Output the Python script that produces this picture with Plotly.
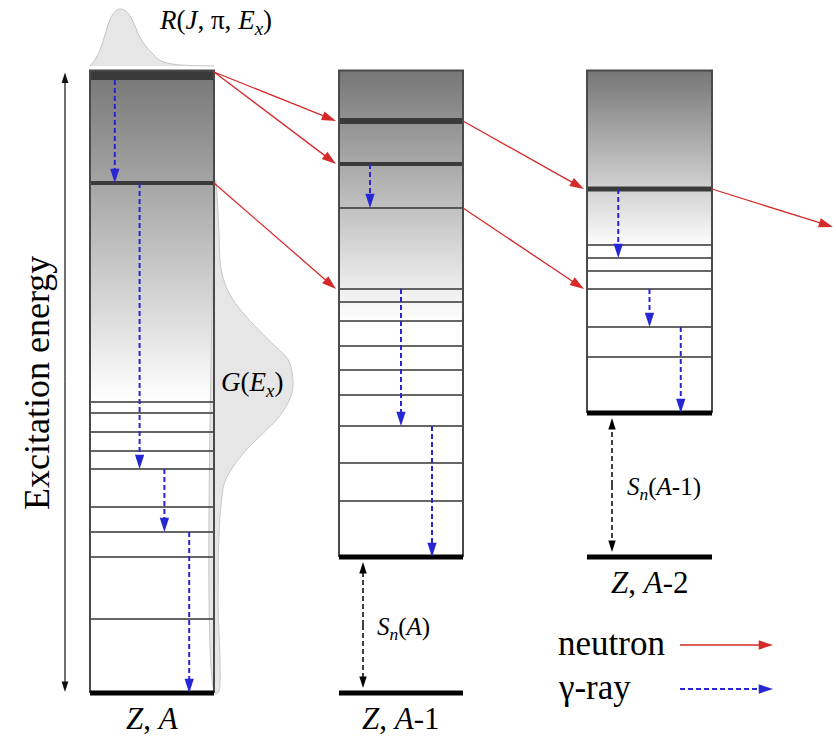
import plotly.graph_objects as go

# ---------------- level-scheme data (energies in arbitrary units) ----------------
SN_A = 2.72        # neutron separation energy of (Z, A)
SN_A1 = 2.88       # neutron separation energy of (Z, A-1)
E_TOP = 12.45      # upper edge of the level schemes

# discrete levels, absolute energies on the common scale
levels_A = [1.48, 2.72, 3.22, 3.72, 4.48, 4.84, 5.22, 5.60, 5.82]
levels_A1 = [3.84, 4.60, 5.34, 5.96, 6.46, 6.94, 7.44, 7.82, 8.08, 9.70]
levels_A2 = [6.72, 7.32, 8.08, 8.44, 8.70, 8.96]

# strongly fed states (drawn as thick lines)
entry_A = 12.36
thick_A = [10.20]
thick_A1 = [11.44, 10.58]
thick_A2 = [10.08]

# energy where the continuum shading fades to white
fade_levels = [5.86, 7.42, 8.90]

# gamma transitions: (nucleus index, position across box, E_from, E_to)
gammas = [
    (0, 0.20, 12.26, 10.20), (0, 0.40, 10.20, 4.48), (0, 0.60, 4.48, 3.22), (0, 0.80, 3.22, 0.00),
    (1, 0.25, 10.58, 9.70), (1, 0.50, 8.08, 5.34), (1, 0.75, 5.34, 2.72),
    (2, 0.25, 10.08, 8.70), (2, 0.50, 8.08, 7.32), (2, 0.75, 7.32, 5.60),
]

# neutron emissions: (from nucleus, E_from, E_to)
neutrons = [
    (0, 12.42, 11.44), (0, 12.42, 10.58), (0, 10.20, 8.08),
    (1, 11.44, 10.08), (1, 9.70, 8.08),
    (2, 10.08, 9.32),
]

# initial spin distribution R(J, pi, Ex) across the entry band
R_J = [0.0, 0.4, 0.8, 1.2, 1.6, 2.0, 2.4, 2.8, 3.2, 3.6, 4.0, 4.6, 5.0, 5.6, 6.2, 7.3, 10.0]
R_val = [0.0, 0.105, 0.28, 0.54, 0.81, 0.95, 1.0, 0.98, 0.89, 0.72, 0.51, 0.32, 0.23, 0.105, 0.053, 0.018, 0.0]

# initial excitation energy distribution G(Ex)
G_E = [10.26, 9.86, 9.26, 8.46, 8.00, 7.60, 7.26, 6.92, 6.66, 6.26, 5.92, 5.52, 5.20, 4.86, 4.52,
       4.20, 3.80, 3.12, 1.86, 0.0]
G_val = [0.01, 0.03, 0.05, 0.08, 0.18, 0.36, 0.56, 0.78, 0.94, 1.0, 0.97, 0.82, 0.62, 0.40, 0.23,
         0.12, 0.08, 0.05, 0.04, 0.04]

labels = ["<i>Z</i>, <i>A</i>", "<i>Z</i>, <i>A</i>-1", "<i>Z</i>, <i>A</i>-2"]

# ---------------- layout geometry ----------------
W, H = 836, 749
PX = 50.0                          # pixels per energy unit
Y_MIN, Y_MAX = -(H - 693) / PX, 693 / PX
boxes = [(90, 214), (339, 463), (587, 712)]
grounds = [0.0, SN_A, SN_A + SN_A1]

SERIF = "Liberation Serif"
RED = "#d42a2a"
BLUE = "#2626d4"
DARK = "#3a3a3a"

fig = go.Figure()


def hline_trace(x0, x1, energies, color, width):
    xs, ys = [], []
    for e in energies:
        xs += [x0, x1, None]
        ys += [e, e, None]
    return go.Scatter(x=xs, y=ys, mode="lines", line=dict(color=color, width=width),
                      hoverinfo="skip", showlegend=False)


def arrow_trace(x0, y0, x1, y1, color, width, size, dash="solid"):
    return go.Scatter(
        x=[x0, x1], y=[y0, y1], mode="lines+markers",
        line=dict(color=color, width=width, dash=dash),
        marker=dict(symbol=["circle", "arrow"], size=[0, size], color=color, opacity=1,
                    angleref="previous", line=dict(width=0)),
        opacity=1, hoverinfo="skip", showlegend=False)


# continuum shading
for (x0, x1), fade in zip(boxes, fade_levels):
    fig.add_trace(go.Scatter(
        x=[x0, x1, x1, x0, x0], y=[fade, fade, E_TOP, E_TOP, fade],
        mode="none", fill="toself",
        fillgradient=dict(type="vertical", colorscale=[[0, "#ffffff"], [1, "#767676"]],
                          start=fade, stop=E_TOP),
        hoverinfo="skip", showlegend=False))

# R(J, pi, Ex) curve above the first nucleus
r_base = 12.54
r_x = [boxes[0][0] + j * (boxes[0][1] - boxes[0][0]) / 10.0 for j in R_J]
r_y = [r_base + v * 1.14 for v in R_val]
fig.add_trace(go.Scatter(x=r_x, y=r_y, mode="lines", fill="toself", fillcolor="#e6e6e6",
                         line=dict(color="#c4c4c4", width=1, shape="spline", smoothing=0.8),
                         hoverinfo="skip", showlegend=False))

# G(Ex) curve beside the first nucleus
g_x0 = boxes[0][1] + 1
g_x = [g_x0 + v * 78 for v in G_val] + [g_x0, g_x0]
g_y = G_E + [0.0, G_E[0]]
fig.add_trace(go.Scatter(x=g_x, y=g_y, mode="lines", fill="toself", fillcolor="#e6e6e6",
                         line=dict(color="#c8c8c8", width=1, shape="spline"),
                         hoverinfo="skip", showlegend=False))

# discrete levels
for (x0, x1), lv in zip(boxes, [levels_A, levels_A1, levels_A2]):
    fig.add_trace(hline_trace(x0, x1, lv, "#333333", 1.5))

# thick levels
fig.add_trace(hline_trace(*boxes[0], [entry_A], DARK, 10))
fig.add_trace(hline_trace(*boxes[0], thick_A, DARK, 4))
fig.add_trace(hline_trace(*boxes[1], thick_A1[:1], DARK, 6))
fig.add_trace(hline_trace(*boxes[1], thick_A1[1:], DARK, 4))
fig.add_trace(hline_trace(*boxes[2], thick_A2, DARK, 5))

# box outlines
for (x0, x1), g in zip(boxes, grounds):
    fig.add_trace(go.Scatter(x=[x0, x0, x1, x1], y=[g, E_TOP, E_TOP, g], mode="lines",
                             line=dict(color="#4a4a4a", width=2),
                             hoverinfo="skip", showlegend=False))

# ground states
for (x0, x1), g in zip(boxes, grounds):
    fig.add_trace(hline_trace(x0, x1, [g], "#000000", 5))
fig.add_trace(hline_trace(*boxes[1], [0.0], "#000000", 5))
fig.add_trace(hline_trace(*boxes[2], [SN_A], "#000000", 5))

# gamma transitions
for k, frac, e0, e1 in gammas:
    x0, x1 = boxes[k]
    xg = x0 + frac * (x1 - x0)
    fig.add_trace(arrow_trace(xg, e0, xg, e1, BLUE, 2, 15, dash="5px,3px"))

# neutron emissions
for k, e0, e1 in neutrons:
    xs = boxes[k][1]
    xe = boxes[k + 1][0] - 3 if k + 1 < len(boxes) else W - 3
    fig.add_trace(arrow_trace(xs, e0, xe, e1, RED, 1.3, 15))

# excitation energy axis
mid = E_TOP / 2
fig.add_trace(arrow_trace(65, mid, 65, E_TOP - 0.04, "#111111", 1.2, 11))
fig.add_trace(arrow_trace(65, mid, 65, 0.02, "#111111", 1.2, 11))

# separation energies
gap = 5 / PX
for x, lo, hi in [(363, 0.0, SN_A), (612, SN_A, SN_A + SN_A1)]:
    m = (lo + hi) / 2
    fig.add_trace(arrow_trace(x, m, x, hi - gap, "#000000", 1.5, 12, dash="5px,3px"))
    fig.add_trace(arrow_trace(x, m, x, lo + gap, "#000000", 1.5, 12, dash="5px,3px"))

# legend samples
fig.add_trace(arrow_trace(680, 0.96, 773, 0.96, RED, 1.3, 15))
fig.add_trace(arrow_trace(680, 0.08, 773, 0.08, BLUE, 2, 15, dash="5px,3px"))


def text(x, y, s, size, xanchor="center", angle=0):
    fig.add_annotation(x=x, y=y, xref="x", yref="y", text=s, showarrow=False,
                       xanchor=xanchor, yanchor="middle", textangle=angle,
                       font=dict(family=SERIF, size=size, color="#000000"))


text(37, 6.2, "Excitation energy", 36, angle=-90)
text(152, -0.50, labels[0], 31)
text(401, -0.50, labels[1], 31)
text(649.5, 2.22, labels[2], 31)
text(375, 1.30, "<i>S<sub>n</sub></i>(<i>A</i>)", 25, xanchor="left")
text(625, 4.10, "<i>S<sub>n</sub></i>(<i>A</i>-1)", 25, xanchor="left")
text(215, 13.42, "<i>R</i>(<i>J</i>, π, <i>E<sub>x</sub></i>)", 27)
text(252, 6.18, "<i>G</i>(<i>E<sub>x</sub></i>)", 27)
text(556, 1.00, "neutron", 35, xanchor="left")
text(556, 0.12, "γ-ray", 35, xanchor="left")

fig.update_layout(
    width=W, height=H, autosize=False,
    margin=dict(l=0, r=0, t=0, b=0),
    paper_bgcolor="white", plot_bgcolor="white",
    font=dict(family=SERIF),
    xaxis=dict(range=[0, W], visible=False, fixedrange=True),
    yaxis=dict(range=[Y_MIN, Y_MAX], visible=False, fixedrange=True),
    showlegend=False,
)

fig.write_html("out.html")
